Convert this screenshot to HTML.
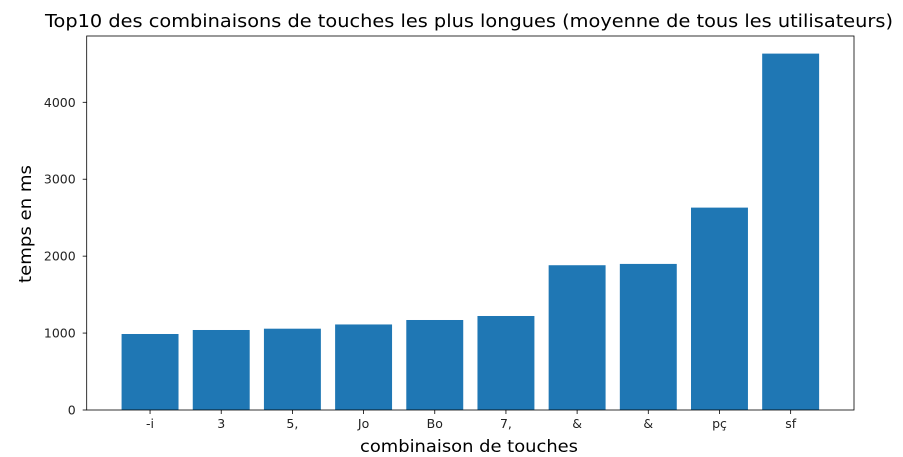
<!DOCTYPE html>
<html><head><meta charset="utf-8"><style>
body{margin:0;background:#fff;}
svg{display:block;font-family:"DejaVu Sans","Liberation Sans",sans-serif;}
</style></head><body>
<svg id="chart" width="903" height="457">
<text x="469" y="27" font-size="17.5" text-anchor="middle" textLength="848" lengthAdjust="spacingAndGlyphs" fill="#000">Top10 des combinaisons de touches les plus longues (moyenne de tous les utilisateurs)</text>
<g id="bars"></g><g id="axes"></g>
<text x="469" y="452" font-size="17" text-anchor="middle" textLength="218" lengthAdjust="spacingAndGlyphs" fill="#000">combinaison de touches</text>
<text transform="translate(31,224) rotate(-90)" font-size="17" text-anchor="middle" textLength="118" lengthAdjust="spacingAndGlyphs" fill="#000">temps en ms</text>
</svg>
<script>
const categories=["-i","3","5,","Jo","Bo","7,","&","&","pç","sf"];
const values=[988,1040,1057,1112,1170,1222,1882,1899,2631,4633];
const yTicks=[0,1000,2000,3000,4000];
const L=86.7,R=854,T=36,B=410;
const ns="http://www.w3.org/2000/svg";
function x(i){return L+(i+0.89)*(R-L)/10.78;}
function y(v){return B-v*(B-102.3)/4000;}
const bw=0.8*(R-L)/10.78;
const bars=document.getElementById('bars'),axes=document.getElementById('axes');
function el(t,a,p){const e=document.createElementNS(ns,t);for(const k in a)e.setAttribute(k,a[k]);p.appendChild(e);return e;}
values.forEach((v,i)=>{
 const r=el('rect',{x:x(i)-bw/2,y:y(v),width:bw,height:B-y(v),fill:'#1f77b4'},bars);
 
 
 el('line',{x1:x(i),x2:x(i),y1:B,y2:B+4,stroke:'#000','stroke-width':0.8},axes);
 const t=el('text',{x:x(i),y:B+18,'font-size':12.5,'text-anchor':'middle',fill:'#222'},axes);
 t.textContent=categories[i];
 
 
});
yTicks.forEach(v=>{
 el('line',{x1:L-4,x2:L,y1:y(v),y2:y(v),stroke:'#000','stroke-width':0.8},axes);
 const t=el('text',{x:L-11,y:y(v)+4.5,'font-size':12.5,'text-anchor':'end',fill:'#222'},axes);
 t.textContent=v;
 
 
});
const f=el('rect',{x:L,y:T,width:R-L,height:B-T,fill:'none',stroke:'#000','stroke-width':0.8},axes);


</script>
</body></html>
